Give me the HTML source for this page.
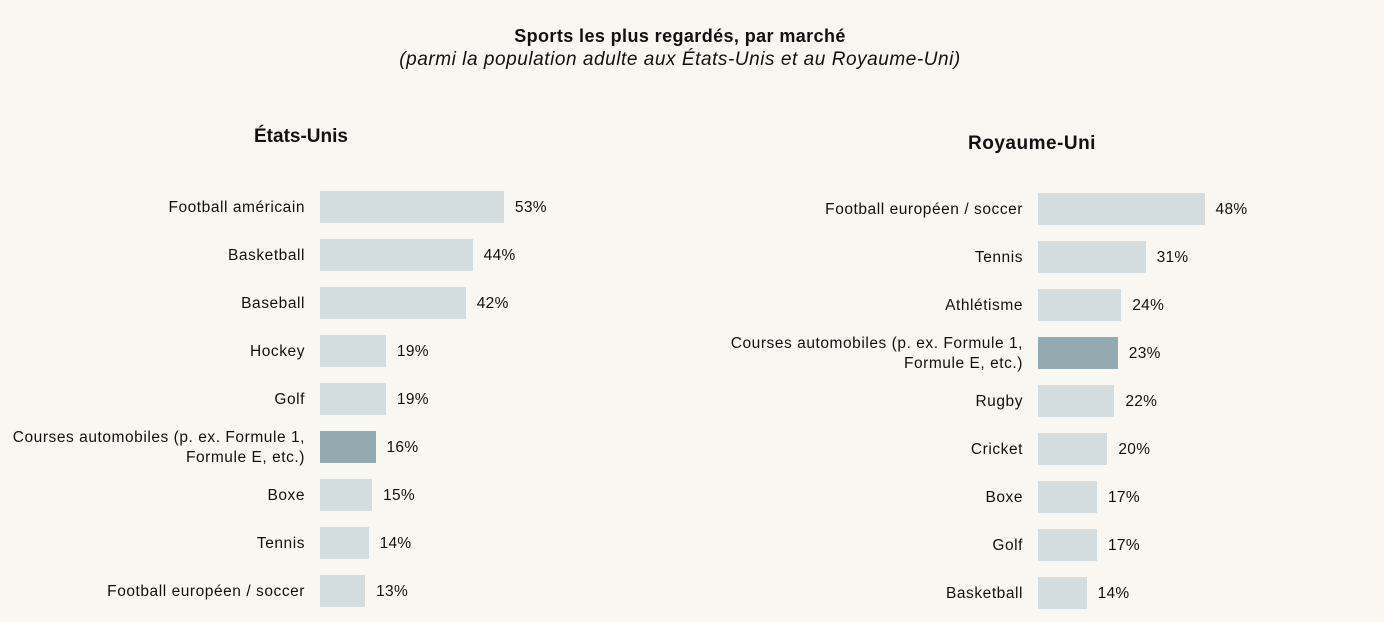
<!DOCTYPE html>
<html><head><meta charset="utf-8"><style>
body{margin:0;background:#f8f7f1;width:1384px;height:622px;overflow:hidden;font-family:"Liberation Sans",sans-serif;color:#111;}
.t{position:absolute;white-space:nowrap}
.bar{position:absolute;height:32px;background:#d3dde0}
.hl{background:#93abb0}
.lab{position:absolute;text-align:right;font-size:15.5px;line-height:20px;letter-spacing:0.55px;white-space:nowrap}
.val{position:absolute;font-size:15.5px;letter-spacing:0.3px}
</style></head><body>
<div class="t" style="left:0;width:1360px;text-align:center;top:26px;font-size:18px;font-weight:bold;letter-spacing:0.4px;">Sports les plus regardés, par marché</div>
<div class="t" style="left:0;width:1360px;text-align:center;top:49px;font-size:19px;font-style:italic;letter-spacing:0.55px;">(parmi la population adulte aux États-Unis et au Royaume-Uni)</div>
<div class="t" style="left:254px;top:126px;font-size:19px;font-weight:bold;">États-Unis</div>
<div class="t" style="left:968px;top:133px;font-size:19px;font-weight:bold;letter-spacing:0.5px;">Royaume-Uni</div>
<div id="c"></div>
<script>
var L=[["Football américain",53],["Basketball",44],["Baseball",42],["Hockey",19],["Golf",19],["Courses automobiles (p. ex. Formule 1,<br>Formule E, etc.)",16,1],["Boxe",15],["Tennis",14],["Football européen / soccer",13]];
var R=[["Football européen / soccer",48],["Tennis",31],["Athlétisme",24],["Courses automobiles (p. ex. Formule 1,<br>Formule E, etc.)",23,1],["Rugby",22],["Cricket",20],["Boxe",17],["Golf",17],["Basketball",14]];
var h="";
function draw(D,x0,y0){D.forEach(function(d,i){var y=y0+i*48,w=d[1]*3.47;
h+='<div class="bar'+(d[2]?' hl':'')+'" style="left:'+x0+'px;top:'+y+'px;width:'+w+'px"></div>';
var two=d[0].indexOf("<br>")>=0;
h+='<div class="lab" style="right:'+(1384-x0+15)+'px;top:'+(y+(two?-3:7))+'px">'+d[0]+'</div>';
h+='<div class="val" style="left:'+(x0+w+11)+'px;top:'+(y+8)+'px">'+d[1]+'%</div>';});}
draw(L,320,191);draw(R,1038,193);
document.getElementById("c").innerHTML=h;
</script>
</body></html>
